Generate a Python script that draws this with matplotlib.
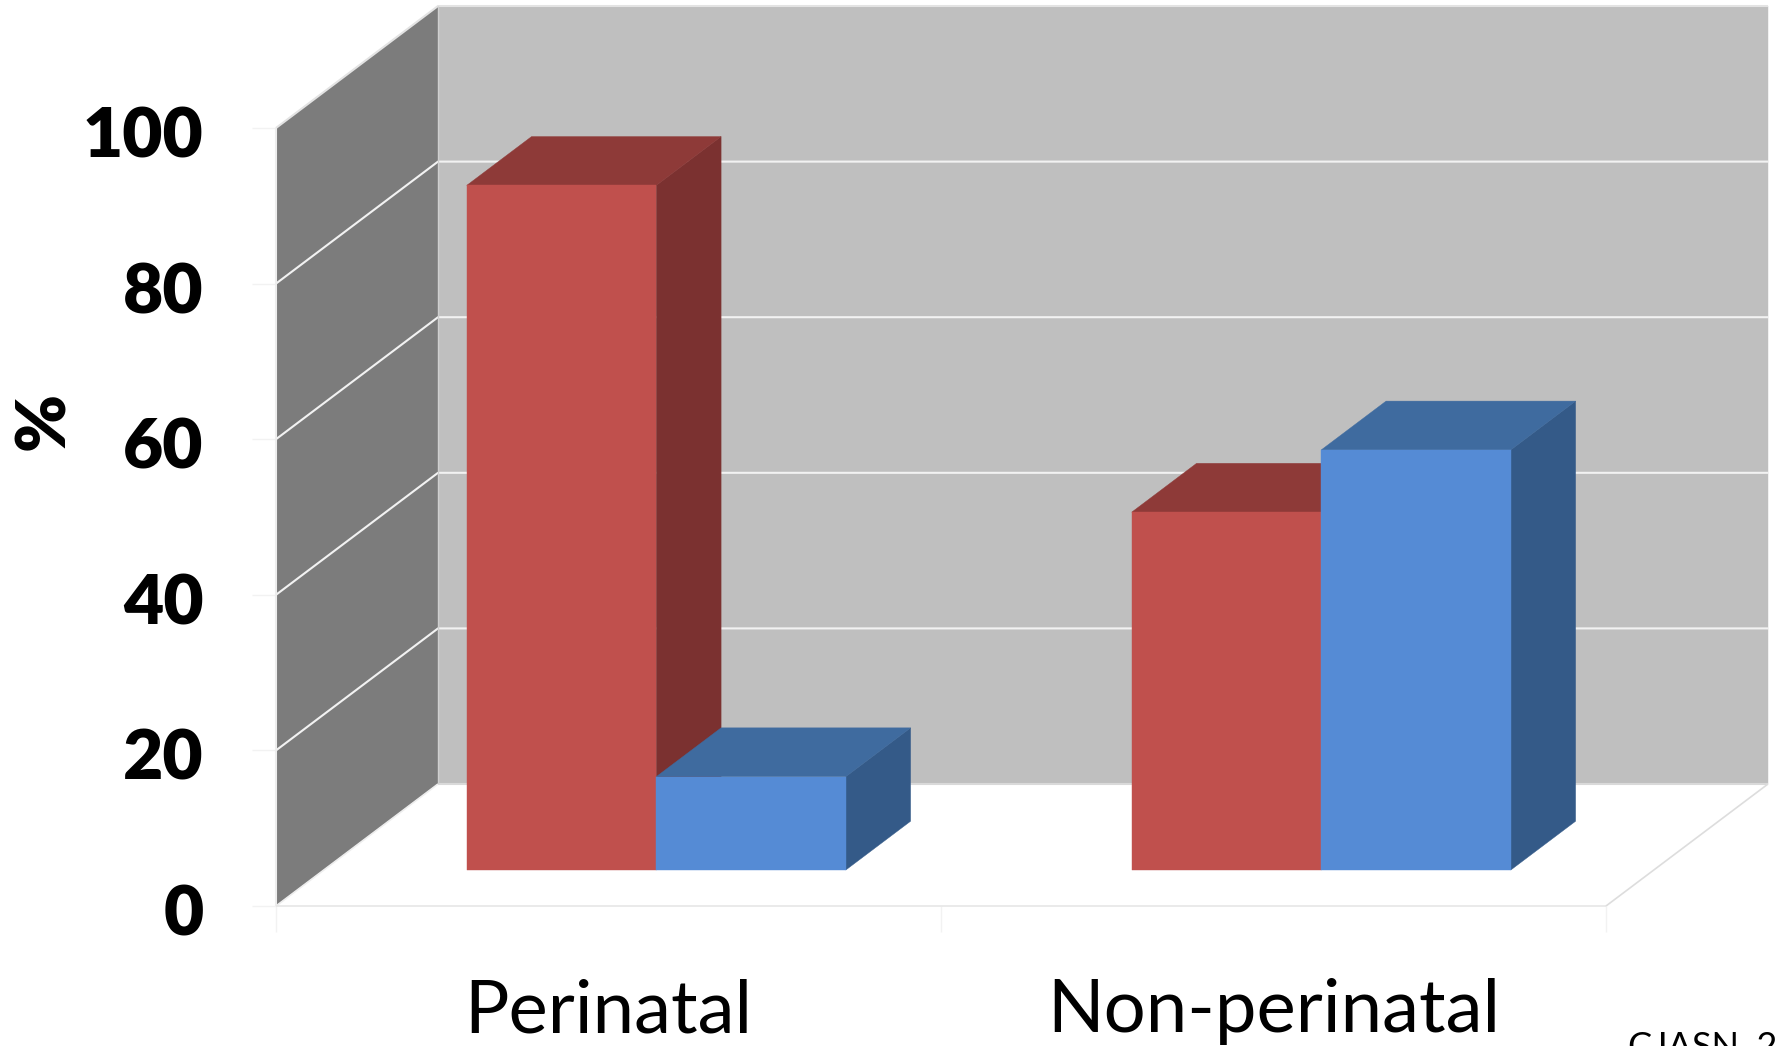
import matplotlib
matplotlib.use("Agg")
import matplotlib.pyplot as plt
from matplotlib.patches import Polygon
from matplotlib.transforms import ScaledTranslation

categories = ["Perinatal", "Non-perinatal"]
red_values = [88, 46]
blue_values = [12, 54]
y_ticks = [0, 20, 40, 60, 80, 100]

# Colours for the faces of each box: front, top, side
red_faces = ("#C0504D", "#8E3A38", "#7B3130")
blue_faces = ("#558BD5", "#3F6B9F", "#345A88")

plt.rcParams["font.family"] = ["Lato", "DejaVu Sans"]

W, H = 1777, 1046
fig = plt.figure(figsize=(W/100, H/100), dpi=100)
ax = fig.add_axes([276/W, (H - 906)/H, 1330/W, 778/H])
ax.set_xlim(0, 2)
ax.set_ylim(0, 100)
ax.patch.set_visible(False)
for s in ax.spines.values():
    s.set_visible(False)

# Oblique projection: one unit of depth shifts right and up
depth_x = 0.2436
depth_y = 15.68


def proj(x, y, d):
    return (x + d*depth_x, y + d*depth_y)


def face(pts, color, z):
    ax.add_patch(Polygon([proj(*p) for p in pts], closed=True, facecolor=color,
                         edgecolor=color, linewidth=0.3, zorder=z, clip_on=False))


def line(pts, color, lw, z):
    xy = [proj(*p) for p in pts]
    ax.plot([p[0] for p in xy], [p[1] for p in xy], color=color, lw=lw,
            zorder=z, clip_on=False, solid_capstyle="butt")


# Walls and floor
face([(0, 0, 1), (2, 0, 1), (2, 100, 1), (0, 100, 1)], "#BFBFBF", 1)
face([(0, 0, 0), (0, 0, 1), (0, 100, 1), (0, 100, 0)], "#7C7C7C", 1)
face([(0, 0, 0), (2, 0, 0), (2, 0, 1), (0, 0, 1)], "white", 1)

for v in y_ticks[1:-1]:
    line([(0, v, 0), (0, v, 1), (2, v, 1)], "#F2F2F2", 1.5, 2)
line([(0, 0, 1), (2, 0, 1)], "#D9D9D9", 1.5, 2)
line([(0, 100, 0), (0, 100, 1), (2, 100, 1)], "#E3E3E3", 1.5, 2)
line([(0, 0, 1), (0, 100, 1)], "#CFCFCF", 1, 2)
line([(0, 0, 0), (0, 100, 0)], "#EDEDED", 1.5, 2)
line([(0, 0, 0), (0, 0, 1)], "#EDEDED", 1.2, 2)
line([(0, 0, 0), (2, 0, 0)], "#E6E6E6", 1.2, 2)
line([(2, 0, 0), (2, 0, 1)], "#DDDDDD", 1.2, 2)


def box(x0, x1, v, faces, z):
    d0, d1 = 0.295, 0.695
    front, top, side = faces
    face([(x1, 0, d0), (x1, 0, d1), (x1, v, d1), (x1, v, d0)], side, z)
    face([(x0, v, d0), (x1, v, d0), (x1, v, d1), (x0, v, d1)], top, z)
    face([(x0, 0, d0), (x1, 0, d0), (x1, v, d0), (x0, v, d0)], front, z)


bar_w = 0.285
for i in range(len(categories)):
    c = i + 0.5
    box(c - bar_w, c, red_values[i], red_faces, 3 + i)
    box(c, c + bar_w, blue_values[i], blue_faces, 3.5 + i)

# Axis ticks and labels
ax.set_yticks(y_ticks)
ax.set_yticklabels([str(v) for v in y_ticks], fontsize=50, fontweight="heavy")
ax.tick_params(axis="y", length=17, width=1, color="#F2F2F2", pad=35, labelcolor="black")
shift = ScaledTranslation(0, -4/100, fig.dpi_scale_trans)
for lab in ax.get_yticklabels():
    lab.set_transform(lab.get_transform() + shift)

ax.set_xticks([0, 1, 2])
ax.set_xticklabels(["", "", ""])
ax.set_xticks([0.5, 1.5], minor=True)
ax.set_xticklabels(categories, minor=True, fontsize=53.5)
ax.tick_params(axis="x", which="major", length=19, width=1, color="#F2F2F2")
ax.tick_params(axis="x", which="minor", length=0, pad=52, labelcolor="black")

ax.set_ylabel("%", fontsize=50, fontweight="heavy", color="black")
ax.yaxis.set_label_coords(-0.150, 0.623)

fig.text(1628/W, (H - 1031)/H, "CJASN, 20", fontsize=26, va="top", ha="left", color="black")

fig.savefig("out.png", dpi=100)
